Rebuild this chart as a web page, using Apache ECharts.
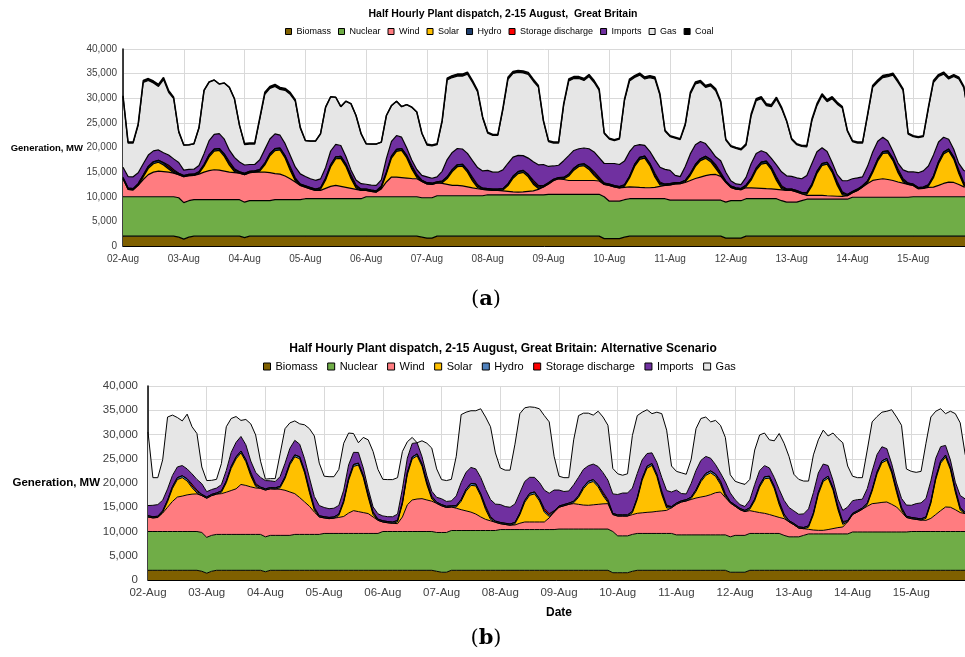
<!DOCTYPE html>
<html><head><meta charset="utf-8">
<script src="https://cdn.jsdelivr.net/npm/echarts/dist/echarts.min.js"></script>
<style>html,body{margin:0;padding:0;background:#fff}#c{width:965px;height:657px}</style>
</head><body><div id="c"></div>
<script>
const days = ['02-Aug','03-Aug','04-Aug','05-Aug','06-Aug','07-Aug','08-Aug','09-Aug','10-Aug','11-Aug','12-Aug','13-Aug','14-Aug','15-Aug','16-Aug'];
const hours = ['00:00','02:00','04:00','06:00','08:00','10:00','12:00','14:00','16:00','18:00','20:00','22:00'];
const yMin = 0, yMax = 40000, yStep = 5000;

const biomass = [
2000,2000,2000,2000,2000,2000,2000,2000,2000,2000,2000,1800,
1400,1800,2000,2000,2000,2000,2000,2000,2000,2000,2000,2000,
1700,2000,2000,2000,2000,2000,2000,2000,2000,2000,2000,2000,
2000,2000,2000,2000,2000,2000,2000,2000,2000,2000,2000,2000,
2000,2000,2000,2000,2000,2000,2000,2000,2000,2000,2000,1800,
1600,1600,2000,2000,2000,2000,2000,2000,2000,2000,2000,2000,
2000,2000,2000,2000,2000,2000,2000,2000,2000,2000,2000,2000,
2000,2000,2000,2000,2000,2000,2000,2000,2000,2000,2000,1500,
1500,1500,1500,1800,2000,2000,2000,2000,2000,2000,2000,2000,
2000,2000,2000,2000,2000,2000,2000,2000,2000,2000,2000,1600,
1600,1600,1600,2000,2000,2000,2000,2000,2000,2000,2000,2000,
2000,2000,2000,2000,2000,2000,2000,2000,2000,2000,2000,2000,
2000,2000,2000,2000,2000,2000,2000,2000,2000,2000,2000,2000,
2000,2000,2000,2000,2000,2000,2000,2000,2000,2000,2000,2000,2000];
const nuclear = [
8000,8000,8000,8000,8000,8000,8000,8000,8000,8000,8000,8000,
7400,7400,7400,7400,7400,7400,7400,7400,7400,7400,7400,7400,
7200,7200,7200,7200,7200,7200,7400,7400,7400,7400,7400,7400,
7600,7600,7600,7600,7600,7600,7600,7600,7600,7600,7600,7600,
8000,8000,8000,8000,8000,8000,8000,8000,8000,8000,8000,8000,
8200,8200,8200,8200,8200,8200,8200,8200,8200,8200,8200,8200,
8400,8400,8400,8400,8400,8400,8400,8400,8400,8400,8400,8400,
8500,8500,8500,8500,8500,8500,8500,8500,8500,8500,8500,8500,
7600,7600,7600,7600,7600,7600,7600,7600,7600,7600,7600,7600,
7300,7300,7300,7300,7300,7300,7300,7300,7300,7300,7300,7300,
7600,7600,7600,7600,7600,7600,7600,7600,7600,7600,7200,6900,
6900,6900,7200,7500,7500,7500,7500,7500,7500,7500,7500,7500,
7900,7900,7900,7900,7900,7900,7900,7900,7900,7900,7900,7900,
8000,8000,8000,8000,8000,8000,8000,8000,8000,8000,8000,8000,8000];
const hydro = [
250,250,250,300,350,400,400,400,400,350,300,250,
250,250,250,300,350,400,400,400,400,350,300,250,
250,250,250,300,350,400,400,400,400,350,300,250,
250,250,250,300,350,400,400,400,400,350,300,250,
250,250,250,300,350,400,400,400,400,350,300,250,
250,250,250,300,350,400,400,400,400,350,300,250,
250,250,250,300,350,400,400,400,400,350,300,250,
250,250,250,300,350,400,400,400,400,350,300,250,
250,250,250,300,350,400,400,400,400,350,300,250,
250,250,250,300,350,400,400,400,400,350,300,250,
250,250,250,300,350,400,400,400,400,350,300,250,
250,250,250,300,350,400,400,400,400,350,300,250,
250,250,250,300,350,400,400,400,400,350,300,250,
250,250,250,300,350,400,400,400,400,350,300,250,250];
const storage = [
0,0,0,0,0,0,0,0,100,400,300,0,
0,0,0,0,0,0,0,0,100,400,300,0,
0,0,0,0,0,0,0,0,100,400,300,0,
0,0,0,0,0,0,0,0,100,400,300,0,
0,0,0,0,0,0,0,0,100,400,300,0,
0,0,0,0,0,0,0,0,100,400,300,0,
0,0,0,0,0,0,0,0,100,400,300,0,
0,0,0,0,0,0,0,0,100,400,300,0,
0,0,0,0,0,0,0,0,100,400,300,0,
0,0,0,0,0,0,0,0,100,400,300,0,
0,0,0,0,0,0,0,0,100,400,300,0,
0,0,0,0,0,0,0,0,100,400,300,0,
0,0,0,0,0,0,0,0,100,400,300,0,
0,0,0,0,0,0,0,0,100,400,300,0,0];
const imports = [
2100,2350,2400,2200,2300,2300,2200,2100,2000,2100,2200,2200,
1100,1000,1000,1300,2200,2900,3000,3000,3000,2300,2300,2000,
1700,1400,1300,2000,2800,3000,3000,2600,2400,2300,2200,2100,
1900,1800,1800,1800,2200,2800,2500,2200,1500,1000,1000,1100,
1000,1000,1100,1300,2800,3000,2800,2300,1500,1100,1000,1000,
1200,1000,1000,2000,3500,3500,3300,3100,3300,3400,3500,3500,
3700,3450,3450,3800,4200,3900,3300,3000,3300,3800,4200,4300,
3300,2700,2500,3400,3800,3600,3200,3200,3700,4000,4000,4000,
4200,4500,4500,4800,5000,3800,2600,2200,2400,2800,3000,3000,
2700,1500,1200,2800,4000,4000,3500,2600,1900,1600,2400,1800,
1100,800,800,1600,3000,3000,2300,1700,1800,2400,2800,2700,
2600,2600,2800,3500,4200,4000,3200,2200,1500,1400,2300,2800,
2600,2300,1800,3000,3800,3600,2900,2000,1400,1200,1800,2300,
2500,3000,3300,3800,4300,4000,3000,2000,1500,1300,2400,2800,2800];

// Chart (a): actual dispatch
const windA = [
3650,1500,1400,2300,3500,4500,5000,5200,5100,5000,4800,4700,
5270,5100,4930,5200,5600,5900,6080,6000,5800,5600,5500,5400,
5600,5700,5800,5800,5800,5700,5300,5200,4800,4250,3600,2900,
2360,2000,1690,1700,2100,2500,2700,2500,2300,2100,1900,1700,
1290,1100,950,1600,3000,4000,4000,3900,3800,3700,3650,3300,
2800,2700,2600,2500,2300,2100,2100,2000,1800,1600,1430,1300,
1000,900,890,800,700,600,550,600,700,800,1100,1600,
2100,2800,3150,3000,2800,2800,2800,2800,2800,2800,2700,2500,
3200,2900,2700,2500,2400,2360,2300,2250,2230,2300,2500,2700,
3100,3300,3340,3600,4000,4400,4700,5000,5200,5230,4830,4020,
2700,2360,2230,2230,2200,2150,2100,2030,2000,1900,2200,2400,
2390,2100,1400,775,775,775,775,700,650,600,570,700,
900,1390,2100,2800,3420,3600,3750,3600,3400,3100,2880,2600,
2300,1630,1700,1900,1960,2300,2700,2980,2900,2500,2000,1960,1900];
const solarA = [
0,0,0,70,540,1260,1710,1800,1350,630,90,0,
0,0,0,160,1200,2800,3800,4000,3000,1400,200,0,
0,0,0,200,1470,3430,4660,4900,3680,1720,250,0,
0,0,0,230,1710,3990,5420,5700,4280,2000,290,0,
0,0,0,220,1650,3850,5230,5500,4130,1930,280,0,
0,0,0,160,1200,2800,3800,4000,3000,1400,200,0,
0,0,0,150,1150,2750,3750,3950,2950,1350,180,0,
0,0,0,120,900,2100,2850,3000,2250,1050,150,0,
0,0,0,240,1800,4200,5700,6000,4500,2100,300,0,
0,0,0,140,1050,2450,3330,3500,2630,1230,180,0,
0,0,0,210,1560,3640,4940,5200,3900,1820,260,0,
0,0,0,260,1920,4480,6080,6400,4800,2240,320,0,
0,0,0,220,1620,3780,5130,5400,4050,1890,270,0,
0,0,0,250,1890,4410,5990,6300,4730,2210,320,0,0];
const gasA = [
14300,6800,6850,9630,16510,15140,13790,12900,14850,12720,12210,6150,
5080,5000,5170,7640,12850,11900,11020,10100,11400,12750,11900,7450,
4150,4150,4150,8200,11180,10270,9640,9300,10820,12380,13350,9250,
7290,7650,7960,9170,12240,11010,9580,7900,11220,13450,13110,10150,
8210,8350,8400,7680,8700,7250,6970,6200,8770,10720,11670,8550,
6450,6550,6500,10040,16150,15200,14700,14800,16100,15850,15370,10750,
7550,7450,7460,12240,17050,17000,16850,16800,17000,16350,15800,8750,
5050,4650,4500,11280,15150,14600,14250,13700,14650,14100,13650,6050,
4950,4650,5150,12260,14350,13840,14100,13450,14970,16350,14600,7750,
6850,7550,7510,8360,12100,12350,11970,11400,12970,13390,11790,6530,
6900,7190,7020,6510,9690,10710,10560,9570,10500,13330,12840,11050,
7460,6700,6550,5765,8655,9345,10545,10100,12950,14310,14710,10050,
7550,7060,6850,10280,13110,12020,12120,13100,15450,16360,16150,7650,
7150,7120,6950,11650,14700,13290,12810,12220,14770,17140,16780,10790,6850];
const coalA = [
200,200,200,300,400,400,400,400,400,400,300,200,
0,0,0,0,0,0,0,0,0,0,0,0,
200,200,200,300,400,400,400,400,400,400,300,200,
0,0,0,0,0,0,0,0,0,0,0,0,
0,0,0,0,0,0,0,0,0,0,0,0,
200,200,200,300,400,400,400,400,400,400,300,200,
200,200,200,300,400,400,400,400,400,400,300,200,
200,200,200,300,400,400,400,400,400,400,300,200,
200,200,200,300,400,400,400,400,400,400,300,200,
200,200,200,300,400,400,400,400,400,400,300,200,
200,200,200,300,400,400,400,400,400,400,300,200,
200,200,200,300,400,400,400,400,400,400,300,200,
200,200,200,300,400,400,400,400,400,400,300,200,
200,200,200,300,400,400,400,400,400,400,300,200,200];

// Chart (b): alternative scenario
const windB = [
3000,2800,2900,3800,5000,6200,7100,7300,7550,7700,7750,7600,
8060,8200,8300,8400,8700,9050,9400,10300,10100,9800,9570,9500,
9650,9600,9550,9500,9300,8950,8400,7600,6700,5800,4600,3600,
3200,3050,3150,3300,3500,4200,4700,4500,4300,4100,3400,2700,
1960,1800,1700,1620,3000,5500,6500,6700,6770,6500,6250,6000,
5500,5150,4850,4600,4300,4050,3800,3400,2800,2300,2000,1700,
1220,1050,900,950,1300,1560,1560,1560,1560,1560,2400,3600,
4500,4800,5100,5240,5100,4950,4900,5000,5100,5200,5240,3500,
4080,4080,4080,4080,4150,4250,4350,4420,4550,4650,4760,5300,
6300,6780,7000,7300,7600,7810,8000,8300,8700,8840,7700,7000,
6000,5300,4900,4700,4500,4300,4150,3900,3600,3300,3450,3100,
2500,1800,1380,950,800,740,740,900,1100,1300,1430,2500,
3600,4120,4700,5300,5840,5950,6100,6180,5700,5150,4100,3000,
2650,2500,2350,2300,2700,3500,4300,5050,5000,4500,3900,3680,3500];
const solarB = [
0,0,0,150,1140,2660,3610,3800,2850,1330,190,0,
0,0,0,260,1950,4550,6180,6500,4880,2280,330,0,
0,0,0,320,2400,5600,7600,8000,6000,2800,400,0,
0,0,0,380,2880,6720,9120,9600,7200,3360,480,0,
0,0,0,360,2670,6230,8460,8900,6680,3120,450,0,
0,0,0,230,1740,4060,5510,5800,4350,2030,290,0,
0,0,0,230,1740,4060,5510,5800,4350,2030,290,0,
0,0,0,190,1440,3360,4560,4800,3600,1680,240,0,
0,0,0,380,2880,6720,9120,9600,7200,3360,480,0,
0,0,0,180,1350,3150,4280,4500,3380,1580,230,0,
0,0,0,300,2250,5250,7130,7500,5630,2630,380,0,
0,0,0,420,3180,7420,10070,10600,7950,3710,530,0,
0,0,0,340,2580,6020,8170,8600,6450,3010,430,0,
0,0,0,410,3090,7210,9790,10300,7730,3610,520,0,0];
const gasB = [
15150,5700,5550,8350,14810,12440,10190,9200,11300,9720,9460,3450,
2290,1900,1800,4340,9000,7000,5320,3300,5220,7670,7700,3350,
300,450,600,4680,7150,5250,4000,4200,7000,10150,12500,8750,
6450,6600,6500,7420,9670,6580,3880,2000,6300,10090,11420,9150,
7540,7650,7650,7520,7680,3370,1240,0,3250,6730,8900,5850,
3950,4300,4450,8170,14010,12390,11690,12000,14150,14920,15010,10550,
7530,7500,7650,12320,16310,15180,14530,14440,15190,15360,14710,6950,
2850,2850,2750,9270,12710,11590,10840,10100,11400,11470,11320,5250,
4270,3670,3970,10840,11920,9830,9030,8080,10350,13140,12460,5350,
3850,4270,4050,4920,8600,8640,8120,7500,9120,9830,9170,3750,
3800,4450,4550,4250,7100,7350,6720,5800,7570,11520,11770,10550,
7550,7200,6770,5730,7770,6840,6990,6100,9750,12540,13940,8450,
5050,4530,4450,7960,10130,7830,7130,7720,11150,13590,15070,7450,
7000,6450,6500,11390,13160,9690,7810,6550,10070,14140,14980,9270,5450];

const cats = [];
for (let d = 0; d < days.length - 1; d++) for (const h of hours) cats.push(days[d] + ' ' + h);
cats.push(days[days.length - 1] + ' ' + hours[0]);

const FONT = 'Liberation Sans, Arial, sans-serif';
const SERIF = 'DejaVu Serif, Liberation Serif, serif';
const C = {Biomass:'#7f6000', Nuclear:'#70ad47', Wind:'#ff7c80', Solar:'#ffc000',
  HydroA:'#1f3f6e', HydroB:'#4f81bd', Storage:'#ff0000', Imports:'#7030a0', Gas:'#e6e6e6', Coal:'#000000'};

function mk(name, data, color, gi, lw) {
  return {name, type:'line', xAxisIndex:gi, yAxisIndex:gi, stack:'s'+gi, data,
    symbol:'none', showSymbol:false, smooth:false,
    lineStyle:{color:'#000', width:lw}, areaStyle:{color, opacity:1},
    itemStyle:{color, borderColor:'#000', borderWidth:1},
    emphasis:{disabled:true}, silent:true};
}
function xAx(gi, fs, margin, name) {
  return {type:'category', gridIndex:gi, data:cats, boundaryGap:false,
    name: name || '', nameLocation:'middle', nameGap:27,
    nameTextStyle:{fontFamily:FONT, fontWeight:'bold', fontSize:12, color:'#000'},
    axisLine:{show:true, lineStyle:{color:'#000', width:1}},
    axisTick:{show:false},
    axisLabel:{interval:(i)=> i % 12 === 0 && i < cats.length - 1, formatter:(v)=>v.split(' ')[0],
      fontFamily:FONT, fontSize:fs, color:'#404040', margin, hideOverlap:false},
    splitLine:{show:true, interval:(i)=> i % 12 === 0, lineStyle:{color:'#d9d9d9', width:1}}};
}
function yAx(gi, fs, margin) {
  return {type:'value', gridIndex:gi, min:yMin, max:yMax, interval:yStep,
    axisLine:{show:true, lineStyle:{color:'#000', width:1.5}},
    axisTick:{show:false},
    axisLabel:{formatter:(v)=>v.toLocaleString('en-US'), fontFamily:FONT, fontSize:fs, color:'#404040', margin},
    splitLine:{show:true, lineStyle:{color:'#d9d9d9', width:1}}};
}

const chart = echarts.init(document.getElementById('c'), null, {renderer:'canvas'});
chart.setOption({
  animation:false,
  backgroundColor:'#fff',
  title:[
    {text:'Half Hourly Plant dispatch, 2-15 August,  Great Britain', left:498, top:4, textAlign:'center',
     textStyle:{fontFamily:FONT, fontWeight:'bold', fontSize:10.5, color:'#000'}},
    {text:'Half Hourly Plant dispatch, 2-15 August, Great Britain: Alternative Scenario', left:498, top:338, textAlign:'center',
     textStyle:{fontFamily:FONT, fontWeight:'bold', fontSize:12, color:'#000'}}
  ],
  legend:[
    {left:285, top:27, padding:0, icon:'rect', itemWidth:6, itemHeight:6, itemGap:7,
     itemStyle:{borderColor:'#000', borderWidth:1},
     textStyle:{fontFamily:FONT, fontSize:9, color:'#000'},
     data:['Biomass','Nuclear','Wind','Solar',{name:'Hydro', itemStyle:{color:C.HydroA}},'Storage discharge','Imports','Gas','Coal']},
    {left:263, top:361, padding:0, icon:'rect', itemWidth:7, itemHeight:7, itemGap:9.5,
     itemStyle:{borderColor:'#000', borderWidth:1},
     textStyle:{fontFamily:FONT, fontSize:11, color:'#000'},
     data:['Biomass','Nuclear','Wind','Solar',{name:'Hydro', itemStyle:{color:C.HydroB}},'Storage discharge','Imports','Gas']}
  ],
  grid:[
    {left:123, top:49, width:851, height:197, outerBoundsMode:'none', containLabel:false},
    {left:148, top:386, width:822, height:194, outerBoundsMode:'none', containLabel:false}
  ],
  xAxis:[xAx(0, 10, 8), xAx(1, 11.5, 7, 'Date')],
  yAxis:[yAx(0, 10, 6), yAx(1, 11.5, 10)],
  series:[
    mk('Biomass', biomass, C.Biomass, 0, 1.2),
    mk('Nuclear', nuclear, C.Nuclear, 0, 1.2),
    mk('Wind', windA, C.Wind, 0, 1.2),
    mk('Solar', solarA, C.Solar, 0, 1.2),
    mk('Hydro', hydro, C.HydroA, 0, 1.2),
    mk('Storage discharge', storage, C.Storage, 0, 1.2),
    mk('Imports', imports, C.Imports, 0, 1.2),
    mk('Gas', gasA, C.Gas, 0, 1.2),
    mk('Coal', coalA, C.Coal, 0, 1.5),
    mk('Biomass', biomass, C.Biomass, 1, 1),
    mk('Nuclear', nuclear, C.Nuclear, 1, 1),
    mk('Wind', windB, C.Wind, 1, 1),
    mk('Solar', solarB, C.Solar, 1, 1),
    mk('Hydro', hydro, C.HydroB, 1, 1),
    mk('Storage discharge', storage, C.Storage, 1, 1),
    mk('Imports', imports, C.Imports, 1, 1),
    mk('Gas', gasB, C.Gas, 1, 1)
  ],
  graphic:[
    {type:'text', x:83, y:148, style:{text:'Generation, MW', align:'right', verticalAlign:'middle',
      font:'bold 9.5px ' + FONT, fill:'#000'}},
    {type:'text', x:100, y:483, style:{text:'Generation, MW', align:'right', verticalAlign:'middle',
      font:'bold 11.5px ' + FONT, fill:'#000'}},
    {type:'text', x:486, y:300, style:{text:'({b|a})', rich:{b:{fontWeight:'bold', fontFamily:SERIF, fontSize:21}},
      fontFamily:SERIF, fontSize:21, align:'center', verticalAlign:'middle', fill:'#000'}},
    {type:'text', x:486, y:639, style:{text:'({b|b})', rich:{b:{fontWeight:'bold', fontFamily:SERIF, fontSize:21}},
      fontFamily:SERIF, fontSize:21, align:'center', verticalAlign:'middle', fill:'#000'}}
  ]
});
</script></body></html>
